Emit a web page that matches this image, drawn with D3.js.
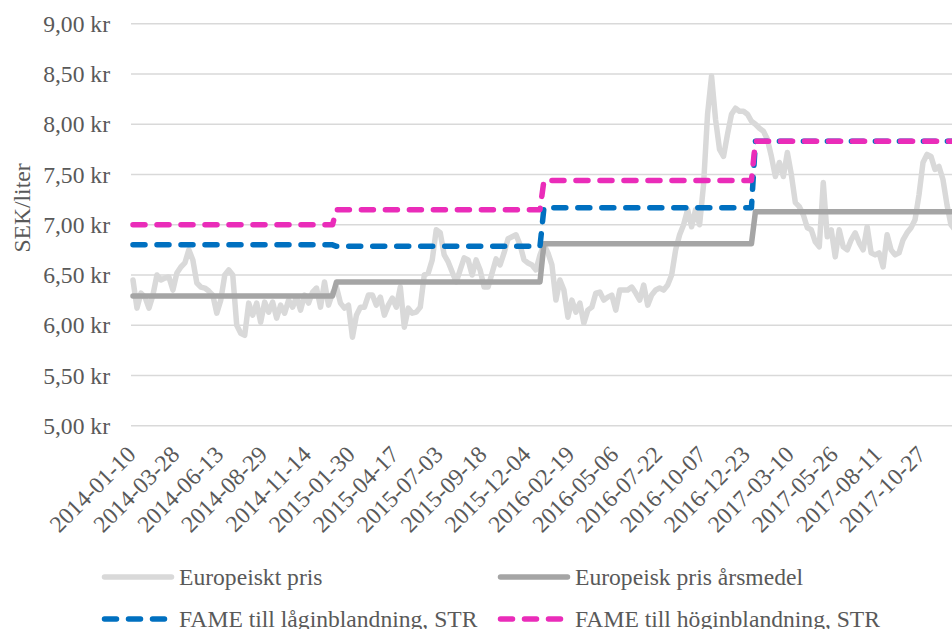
<!DOCTYPE html>
<html>
<head>
<meta charset="utf-8">
<script src="https://cdn.jsdelivr.net/npm/d3@7"></script>
<style>
  html, body { margin: 0; padding: 0; background: #fff; overflow: hidden; }
  svg { display: block; }
  svg text { font-family: 'Liberation Serif', 'Times New Roman', serif; }
</style>
</head>
<body>
<svg id="chart" width="952" height="629"></svg>
<script>
// ---- DATA ----
const startDate = "2014-01-10"; // first weekly category
const euroPrice = [
  6.45, 6.17, 6.32, 6.28, 6.17, 6.30, 6.50, 6.45, 6.47, 6.48,
  6.35, 6.52, 6.58, 6.62, 6.75, 6.65, 6.42, 6.38, 6.37, 6.34,
  6.30, 6.12, 6.25, 6.50, 6.55, 6.50, 6.00, 5.92, 5.90, 6.22,
  6.10, 6.22, 6.03, 6.23, 6.13, 6.23, 6.07, 6.20, 6.12, 6.25,
  6.18, 6.28, 6.15, 6.30, 6.22, 6.33, 6.37, 6.18, 6.43, 6.20,
  6.32, 6.38, 6.22, 6.17, 6.20, 5.88, 6.10, 6.18, 6.18, 6.30,
  6.30, 6.20, 6.28, 6.10, 6.20, 6.27, 6.18, 6.38, 5.98, 6.17,
  6.12, 6.13, 6.18, 6.50, 6.52, 6.65, 6.95, 6.92, 6.70, 6.63,
  6.53, 6.43, 6.55, 6.67, 6.65, 6.50, 6.65, 6.55, 6.38, 6.38,
  6.52, 6.66, 6.60, 6.72, 6.86, 6.88, 6.90, 6.80, 6.65, 6.62,
  6.60, 6.55, 6.70, 6.80, 6.72, 6.60, 6.25, 6.45, 6.35, 6.08,
  6.25, 6.13, 6.22, 6.02, 6.15, 6.18, 6.32, 6.33, 6.25, 6.28,
  6.30, 6.15, 6.35, 6.35, 6.35, 6.38, 6.32, 6.25, 6.40, 6.20,
  6.30, 6.35, 6.37, 6.35, 6.40, 6.50, 6.75, 6.90, 7.00, 7.15,
  6.98, 7.15, 7.00, 7.40, 8.10, 8.48, 8.05, 7.75, 7.68, 7.90,
  8.10, 8.16, 8.13, 8.13, 8.10, 8.03, 8.00, 7.96, 7.93, 7.85,
  7.68, 7.48, 7.62, 7.48, 7.72, 7.50, 7.22, 7.18, 7.10, 6.97,
  6.95, 6.83, 6.78, 7.42, 6.88, 6.95, 6.68, 6.95, 6.78, 6.75,
  6.85, 6.92, 6.82, 6.75, 6.98, 6.72, 6.70, 6.72, 6.58, 6.90,
  6.75, 6.70, 6.72, 6.85, 6.92, 6.97, 7.05, 7.30, 7.62, 7.70,
  7.68, 7.55, 7.58, 7.45, 7.20, 7.00, 6.95, 6.90
];
const years      = [2014, 2015, 2016, 2017];
const annualMean = [6.29, 6.43, 6.81, 7.13];   // Europeisk pris årsmedel
const fameLow    = [6.80, 6.785, 7.17, 7.83];  // FAME till låginblandning, STR
const fameHigh   = [7.00, 7.15, 7.44, 7.83];   // FAME till höginblandning, STR
const yTicks     = [5.0, 5.5, 6.0, 6.5, 7.0, 7.5, 8.0, 8.5, 9.0];
const tickEvery  = 11;
const seriesNames = ["Europeiskt pris", "Europeisk pris årsmedel",
                     "FAME till låginblandning, STR", "FAME till höginblandning, STR"];

// ---- BUILD ROWS ----
const parse = d3.utcParse("%Y-%m-%d");
const fmt = d3.utcFormat("%Y-%m-%d");
const d0 = parse(startDate);
const rows = euroPrice.map((v, i) => {
  const date = d3.utcWeek.offset(d0, i);
  const yi = years.indexOf(date.getUTCFullYear());
  return { label: fmt(date), price: v, mean: annualMean[yi], low: fameLow[yi], high: fameHigh[yi] };
});

// ---- LAYOUT ----
const svg = d3.select("#chart");
const plotLeft = 131, step = 3.99;
const x = d3.scalePoint()
  .domain(rows.map(d => d.label))
  .range([plotLeft, plotLeft + rows.length * step])
  .padding(0.5);
const y = d3.scaleLinear().domain([5, 9]).range([425.7, 23.8]);

const font = "'Liberation Serif', 'Times New Roman', serif";
const textCol = "#595959";

// gridlines
svg.append("g").selectAll("line").data(yTicks).join("line")
  .attr("x1", plotLeft).attr("x2", 952 + 20)
  .attr("y1", d => y(d)).attr("y2", d => y(d))
  .attr("stroke", "#d9d9d9").attr("stroke-width", 1.5);

// y axis labels
const yAxis = d3.axisLeft(y).tickValues(yTicks).tickSize(0).tickPadding(0)
  .tickFormat(d => d3.format(".2f")(d).replace(".", ",") + " kr");
const gy = svg.append("g").attr("transform", `translate(110,0)`).call(yAxis)
  .attr("font-family", font).attr("font-size", "23.6px");
gy.select(".domain").remove();
gy.selectAll("text").attr("font-family", font).attr("font-size", "23.6px")
  .attr("fill", textCol).attr("dy", "0.32em");

// y axis title
svg.append("text")
  .attr("transform", "translate(30,208) rotate(-90)")
  .attr("text-anchor", "middle")
  .attr("font-family", font).attr("font-size", "23.6px").attr("fill", textCol)
  .text("SEK/liter");

// x axis tick labels
const xTickLabels = rows.map(d => d.label).filter((d, i) => i % tickEvery === 0);
const xAxis = d3.axisBottom(x).tickValues(xTickLabels).tickSize(0).tickPadding(0);
const gx = svg.append("g").call(xAxis)
  .attr("font-family", font).attr("font-size", "23.6px");
gx.select(".domain").remove();
gx.selectAll(".tick").attr("transform", d => `translate(${x(d) + 4},456)`);
gx.selectAll(".tick text")
  .attr("x", 0).attr("y", 0).attr("dy", 0)
  .attr("transform", "rotate(-45)")
  .attr("text-anchor", "end")
  .attr("font-family", font).attr("font-size", "23.6px").attr("fill", textCol);

// lines
const mk = key => d3.line().x(d => x(d.label)).y(d => y(d[key]));
const plot = svg.append("g");
plot.append("path").datum(rows).attr("d", mk("price"))
  .attr("fill", "none").attr("stroke", "#d9d9d9").attr("stroke-width", 5.5)
  .attr("stroke-linejoin", "round").attr("stroke-linecap", "round");
plot.append("path").datum(rows).attr("d", mk("mean"))
  .attr("fill", "none").attr("stroke", "#a5a5a5").attr("stroke-width", 5.5)
  .attr("stroke-linejoin", "round").attr("stroke-linecap", "round");
plot.append("path").datum(rows).attr("d", mk("low"))
  .attr("fill", "none").attr("stroke", "#0070c0").attr("stroke-width", 5.5)
  .attr("stroke-dasharray", "12,12")
  .attr("stroke-linejoin", "round").attr("stroke-linecap", "round");
plot.append("path").datum(rows).attr("d", mk("high"))
  .attr("fill", "none").attr("stroke", "#ea2cb9").attr("stroke-width", 5.5)
  .attr("stroke-dasharray", "12,12")
  .attr("stroke-linejoin", "round").attr("stroke-linecap", "round");

// legend
const legendItems = [
  { name: seriesNames[0], color: "#d9d9d9", dash: null,    lx: 104.5, ly: 577 },
  { name: seriesNames[1], color: "#a5a5a5", dash: null,    lx: 500.5, ly: 577 },
  { name: seriesNames[2], color: "#0070c0", dash: "12,12", lx: 104.5, ly: 619 },
  { name: seriesNames[3], color: "#ea2cb9", dash: "12,12", lx: 500.5, ly: 619 }
];
const lg = svg.append("g").selectAll("g").data(legendItems).join("g");
lg.append("line")
  .attr("x1", d => d.lx).attr("x2", d => d.lx + (d.dash ? 60 : 67))
  .attr("y1", d => d.ly).attr("y2", d => d.ly)
  .attr("stroke", d => d.color).attr("stroke-width", 5.5)
  .attr("stroke-linecap", "round")
  .attr("stroke-dasharray", d => d.dash);
lg.append("text")
  .attr("x", d => d.lx + 74.5).attr("y", d => d.ly + 8)
  .attr("font-family", font).attr("font-size", "23.6px").attr("fill", textCol)
  .text(d => d.name);
</script>
</body>
</html>
